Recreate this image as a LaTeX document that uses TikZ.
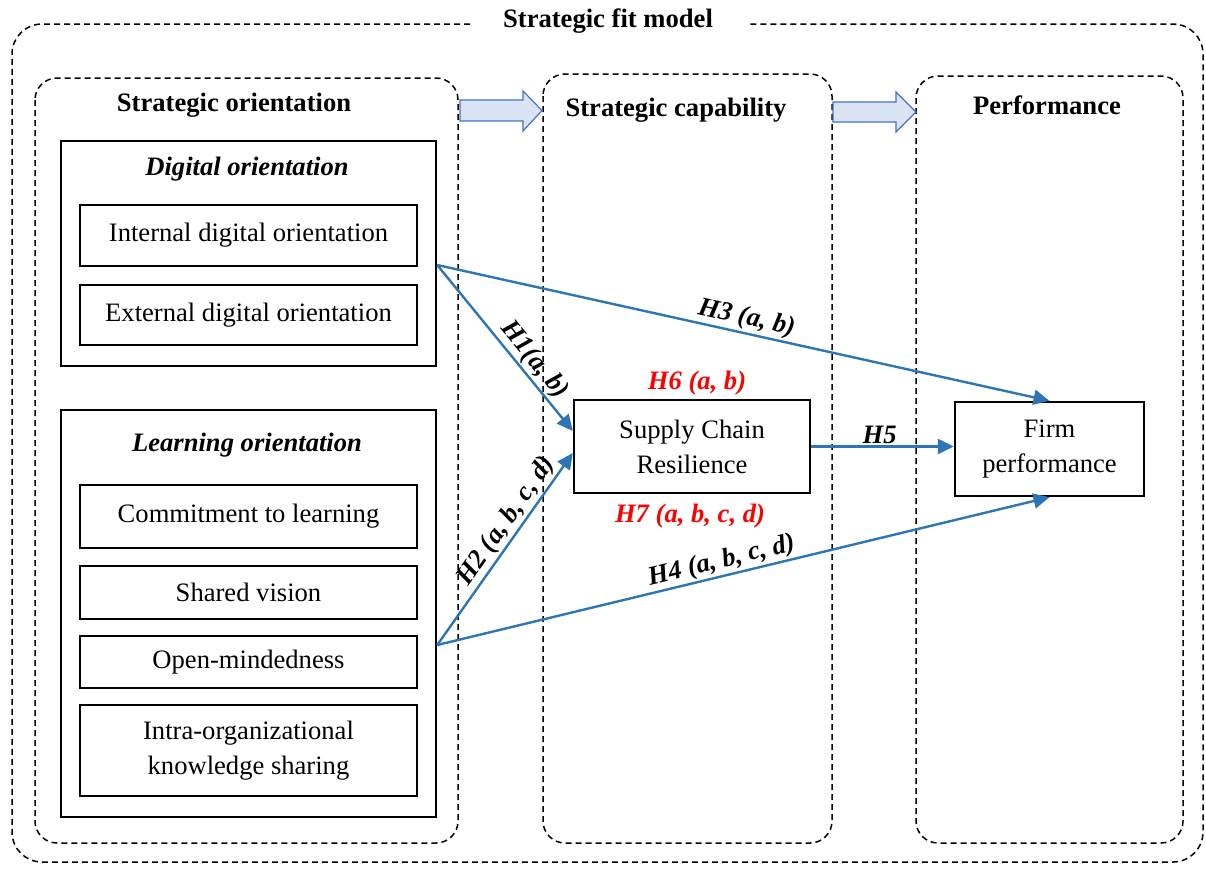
\documentclass[tikz,border=0pt]{standalone}
\usepackage{fontspec}
\setmainfont{Liberation Serif}
\usetikzlibrary{arrows.meta,calc}
\newcommand\figfont{\fontsize{26.6}{35}\selectfont}
\definecolor{linkblue}{HTML}{2E75B6}
\definecolor{hypred}{HTML}{FF0000}
\definecolor{arrowfill}{HTML}{DAE3F3}
\definecolor{arrowedge}{HTML}{4472C4}
\begin{document}
\begin{tikzpicture}[x=1pt,y=-1pt,
  every node/.style={font=\figfont},
  groupbox/.style={draw, line width=1.5pt, dash pattern=on 6pt off 4pt, rounded corners=22pt},
  framebox/.style={draw, line width=2.4pt, inner sep=0pt, minimum width=375pt},
  itembox/.style={draw, line width=2.4pt, inner sep=0pt, align=center, minimum width=337pt},
  conbox/.style={draw, line width=2.4pt, inner sep=0pt, align=center},
  heading/.style={font=\figfont\bfseries},
  subheading/.style={font=\figfont\bfseries\itshape},
  hyp/.style={font=\figfont\bfseries\itshape, inner sep=1.5pt},
  redhyp/.style={font=\figfont\bfseries\itshape, text=hypred},
  link/.style={draw=linkblue, line width=2.4pt, -{Triangle[length=16pt,width=15pt]}},
  blockarrow/.style={draw=arrowedge, fill=arrowfill, line width=1.2pt, line join=miter}
]
\useasboundingbox (0,0) rectangle (1206,868);

% outer frame with its title
\node[heading] (title) at (608,21) {Strategic fit model};
\draw[line width=1.5pt, dash pattern=on 6pt off 4pt, rounded corners=30pt]
  (470,24) -| (12,862) -| (1203,24) -- (750,24);

% three stage groups
\draw[groupbox] (35,78) rectangle (458,843);
\draw[groupbox] (543,74) rectangle (832,843);
\draw[groupbox] (916,76) rectangle (1183,843);
\node[heading] (hso) at (234,105) {Strategic orientation};
\node[heading] (hsc) at (676,110) {Strategic capability};
\node[heading] (hpf) at (1047,105) {Performance};

% block arrows between stages
\draw[blockarrow] (460,100) -- (523,100) -- (523,91) -- (542,110.5) -- (523,131) -- (523,121) -- (460,121) -- cycle;
\draw[blockarrow] (833,102) -- (896,102) -- (896,92) -- (916,112) -- (896,132) -- (896,122) -- (833,122) -- cycle;

% digital orientation
\node[framebox, minimum height=225pt] (dig) at (248.5,253.5) {};
\node[subheading] (hdig) at (247,169) {Digital orientation};
\node[itembox, minimum height=61pt] (idig) at (248.5,235.5) {Internal digital orientation};
\node[itembox, minimum height=60pt] (edig) at (248.5,315) {External digital orientation};

% learning orientation
\node[framebox, minimum height=407pt] (lrn) at (248.5,613.5) {};
\node[subheading] (hlrn) at (247,445) {Learning orientation};
\node[itembox, minimum height=63pt] (com) at (248.5,516.5) {Commitment to learning};
\node[itembox, minimum height=53pt] (sha) at (248.5,592.5) {Shared vision};
\node[itembox, minimum height=52pt] (opn) at (248.5,662) {Open-mindedness};
\node[itembox, minimum height=91pt] (iks) at (248.5,750.5) {Intra-organizational\\knowledge sharing};

% capability and performance constructs
\node[conbox, minimum width=236pt, minimum height=93pt] (scr) at (692,446.5) {Supply Chain\\Resilience};
\node[conbox, minimum width=189pt, minimum height=94pt] (firm) at (1049.5,449) {Firm\\performance};
\node[redhyp] (h6) at (697,383) {H6 (a, b)};
\node[redhyp] (h7) at (690,516) {H7 (a, b, c, d)};

% hypothesised paths
\coordinate (dsrc) at ([yshift=-11.5pt]dig.east);
\coordinate (lsrc) at ([yshift=-31.5pt]lrn.east);
\draw[link] (dsrc) -- node[hyp, sloped, above, pos=0.63] {H1(a, b)} ([yshift=15.5pt]scr.west);
\draw[link] (lsrc) -- node[hyp, sloped, above, pos=0.6] {H2 (a, b, c, d)} ([yshift=-6.5pt]scr.west);
\draw[link] (dsrc) -- node[hyp, sloped, above, pos=0.5] {H3 (a, b)} (firm.north);
\draw[link] (lsrc) -- node[hyp, sloped, above, pos=0.47] {H4 (a, b, c, d)} (firm.south);
\draw[link] (scr.east) -- node[hyp, above, pos=0.48] {H5} (scr.east -| firm.west);
\end{tikzpicture}
\end{document}
